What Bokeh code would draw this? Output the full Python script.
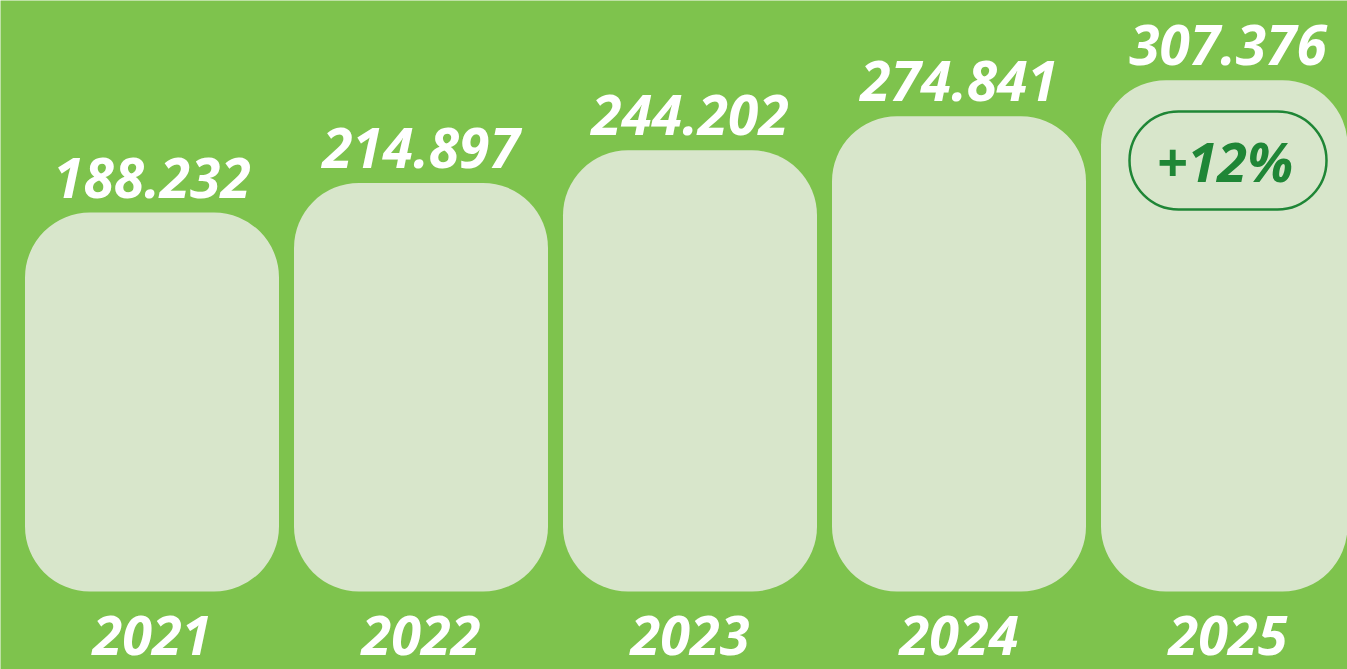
from bokeh.plotting import figure
from bokeh.models import ColumnDataSource, LabelSet, Label, Range1d
from bokeh.core.properties import value
from bokeh.embed import file_html
from bokeh.resources import INLINE

years = ["2021", "2022", "2023", "2024", "2025"]
values = [188.232, 214.897, 244.202, 274.841, 307.376]
value_labels = ["188.232", "214.897", "244.202", "274.841", "307.376"]

BG = "#7EC34D"
BAR = "#D8E6CB"
DARK = "#1F8636"
FONT = "Open Sans"

base = -152.7          # value at bar bottoms
ppu = 1.1115           # pixels per value unit
W, H = 1347, 669
bottom_px = 591
y0 = base - (H - bottom_px) / ppu
y1 = base + bottom_px / ppu

step = 269.0
x_first = 151.5
xs = list(range(len(years)))

src = ColumnDataSource(dict(x=xs, top=values, lab=value_labels, yr=years,
                            bottom=[base] * len(years)))

p = figure(width=W, height=H, output_backend="svg", toolbar_location=None,
           x_range=Range1d(-x_first / step, (W - x_first) / step),
           y_range=Range1d(y0, y1), min_border=0)
p.axis.visible = False
p.grid.visible = False
p.outline_line_color = None
p.background_fill_color = BG
p.border_fill_color = BG

p.vbar(x="x", top="top", bottom="bottom", width=254 / step, source=src,
       fill_color=BAR, line_color=None, border_radius=65)

p.add_layout(LabelSet(x="x", y="top", text="lab", source=src, y_offset=15,
                      text_align="center", text_baseline="alphabetic",
                      text_font=value(FONT), text_font_style="bold italic",
                      text_font_size="55px", text_color="white"))

p.add_layout(LabelSet(x="x", y=15, y_units="screen", text="yr", source=src,
                      text_align="center", text_baseline="alphabetic",
                      text_font=value(FONT), text_font_style="bold italic",
                      text_font_size="54px", text_color="white"))

pct = round((values[-1] / values[-2] - 1) * 100)
pill_y = base + (bottom_px - 160) / ppu
p.rect(x=[xs[-1]], y=[pill_y], width=197, height=98, width_units="screen",
       height_units="screen", fill_color=None, line_color=DARK, line_width=2.5,
       border_radius=49)
p.add_layout(Label(x=xs[-1], y=pill_y, text=f"+{pct}%", text_align="center",
                   text_baseline="middle", text_font=FONT,
                   text_font_style="bold italic", text_font_size="54px",
                   text_color=DARK, x_offset=-3))

open("out.html", "w").write(file_html(p, INLINE))
